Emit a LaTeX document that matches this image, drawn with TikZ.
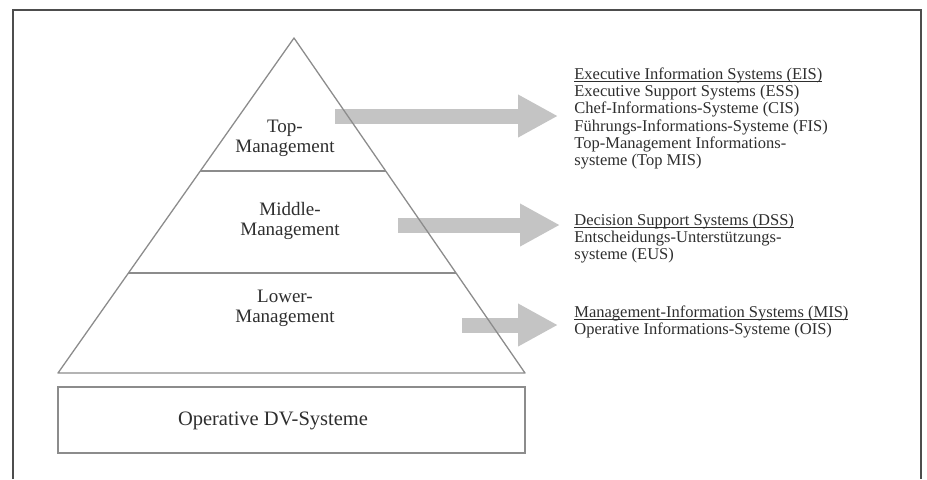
\documentclass[tikz,border=0pt]{standalone}
\usepackage{fontspec}
\setmainfont{Liberation Serif}
\usepackage{tikz}
\usetikzlibrary{ positioning, arrows.meta, calc }
\usepackage{xcolor}
\definecolor{framegray}{HTML}{4D4D4D}
\definecolor{linegray}{HTML}{8C8C8C}
\definecolor{arrowgray}{HTML}{C4C4C4}
\definecolor{ink}{HTML}{2E2E2E}
\newcommand{\lowline}[1]{\setbox0\hbox{#1}\rlap{\rule[-1.4pt]{\wd0}{0.45pt}}\box0}

\begin{document}
\begin{tikzpicture}[
  x=0.5pt, y=-0.5pt,
  frame/.style={draw=framegray, line width=1pt},
  edge/.style={draw=linegray, line width=0.65pt, line join=round},
  level/.style={align=center, inner sep=0pt, text=ink,
                font=\fontsize{9.5}{10}\selectfont},
  list/.style={align=left, inner sep=0pt, anchor=north west, text=ink,
               font=\fontsize{8.25}{8.6}\selectfont},
  dvbox/.style={draw=linegray, line width=0.65pt, minimum width=233.5pt,
                minimum height=33pt, inner sep=0pt},
  bigar/.style={arrowgray, line width=7.5pt,
                -{Triangle[length=20pt, width=20pt]}},
]
  \useasboundingbox (0,0) rectangle (927,479);
  \draw[frame] (12.5,479) |- (921,9.5) -- (921,479);

  \coordinate (apex) at (294,38);
  \coordinate (bl) at (58,373);
  \coordinate (br) at (525,373);

  \node[list] (toplist) at (574,67.5) {\lowline{Executive Information Systems (EIS)}\\
    Executive Support Systems (ESS)\\Chef-Informations-Systeme (CIS)\\
    Führungs-Informations-Systeme (FIS)\\Top-Management Informations-\\
    systeme (Top MIS)};
  \node[list] (midlist) at (574,213.5) {\lowline{Decision Support Systems (DSS)}\\
    Entscheidungs-Unterstützungs-\\systeme (EUS)};
  \node[list] (lowlist) at (574,305.5) {\lowline{Management-Information Systems (MIS)}\\
    Operative Informations-Systeme (OIS)};

  \coordinate (topsrc) at (335,116);
  \coordinate (midsrc) at (398,225);
  \coordinate (lowsrc) at (462,325);
  \draw[bigar, shorten >=8pt] (topsrc) -- (topsrc -| toplist.west);
  \draw[bigar, shorten >=7pt] (midsrc) -- (midsrc -| midlist.west);
  \draw[bigar, shorten >=8pt] (lowsrc) -- (lowsrc -| lowlist.west);

  \draw[edge] (apex) -- (bl) -- (br) -- cycle;
  \draw[edge] ($(apex)!0.397!(bl)$) -- ($(apex)!0.397!(br)$);
  \draw[edge] ($(apex)!0.7015!(bl)$) -- ($(apex)!0.7015!(br)$);

  \node[level] (top) at (285,138) {Top-\\Management};
  \node[level] (middle) at (290,220.5) {Middle-\\Management};
  \node[level] (lower) at (285,308) {Lower-\\Management};

  \node[dvbox] (dv) at (291.5,420) {};
  \node[level, font=\fontsize{10.25}{11}\selectfont] (dvlabel) at (273,421)
    {Operative DV-Systeme};
\end{tikzpicture}
\end{document}
